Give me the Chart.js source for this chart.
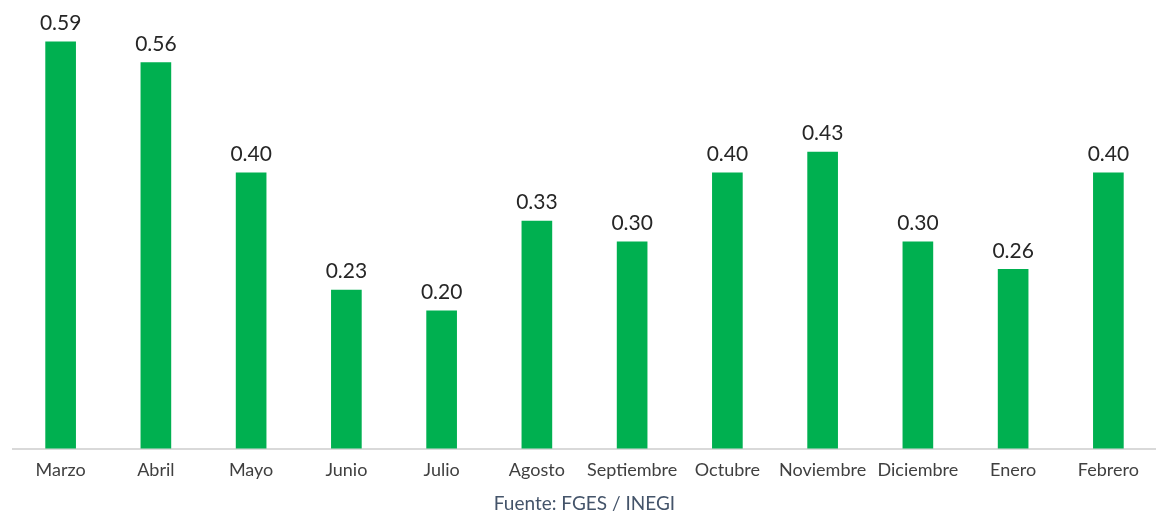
<!DOCTYPE html>
<html>
<head>
<meta charset="utf-8">
<script src="https://cdn.jsdelivr.net/npm/chart.js@4/dist/chart.umd.min.js"></script>
<style>
  html, body { margin: 0; padding: 0; background: #fff; overflow: hidden; }
  #wrap { width: 1156px; height: 512px; }
</style>
</head>
<body>
<div id="wrap"><canvas id="myChart"></canvas></div>
<script>
(function () {
  'use strict';

  var meses = ['Marzo', 'Abril', 'Mayo', 'Junio', 'Julio', 'Agosto', 'Septiembre',
    'Octubre', 'Noviembre', 'Diciembre', 'Enero', 'Febrero'];
  var valores = [0.59, 0.56, 0.40, 0.23, 0.20, 0.33, 0.30, 0.40, 0.43, 0.30, 0.26, 0.40];
  var fuente = 'Fuente: FGES / INEGI';

  // etiquetas encima de cada barra
  var etiquetas = {
    id: 'etiquetas',
    afterDatasetsDraw: function (chart) {
      var ctx = chart.ctx;
      var meta = chart.getDatasetMeta(0);
      ctx.save();
      ctx.font = '21px Lato';
      ctx.fillStyle = '#262626';
      ctx.textAlign = 'center';
      ctx.textBaseline = 'bottom';
      meta.data.forEach(function (bar, i) {
        ctx.fillText(valores[i].toFixed(2), bar.x, bar.y - 8);
      });
      ctx.restore();
    }
  };

  var ctx = document.getElementById('myChart').getContext('2d');
  new Chart(ctx, {
    type: 'bar',
    data: {
      labels: meses,
      datasets: [{
        data: valores,
        backgroundColor: '#00B050',
        borderWidth: 0,
        barThickness: 30
      }]
    },
    options: {
      responsive: true,
      maintainAspectRatio: false,
      animation: false,
      layout: { padding: { top: 4, left: 13, right: 0, bottom: -3 } },
      plugins: {
        legend: { display: false },
        tooltip: { enabled: false },
        title: {
          display: true,
          position: 'bottom',
          text: fuente,
          color: '#44546A',
          font: { family: 'Lato', size: 19, weight: 'normal' },
          padding: { top: 0, bottom: 0 }
        }
      },
      scales: {
        x: {
          grid: { display: false, drawTicks: false },
          border: { display: true, color: '#D9D9D9', width: 2 },
          ticks: {
            color: '#404040',
            font: { family: 'Lato', size: 18 },
            padding: 11,
            maxRotation: 0,
            autoSkip: false
          }
        },
        y: {
          display: false,
          min: 0,
          max: 0.645
        }
      }
    },
    plugins: [etiquetas]
  });
})();
</script>
</body>
</html>
